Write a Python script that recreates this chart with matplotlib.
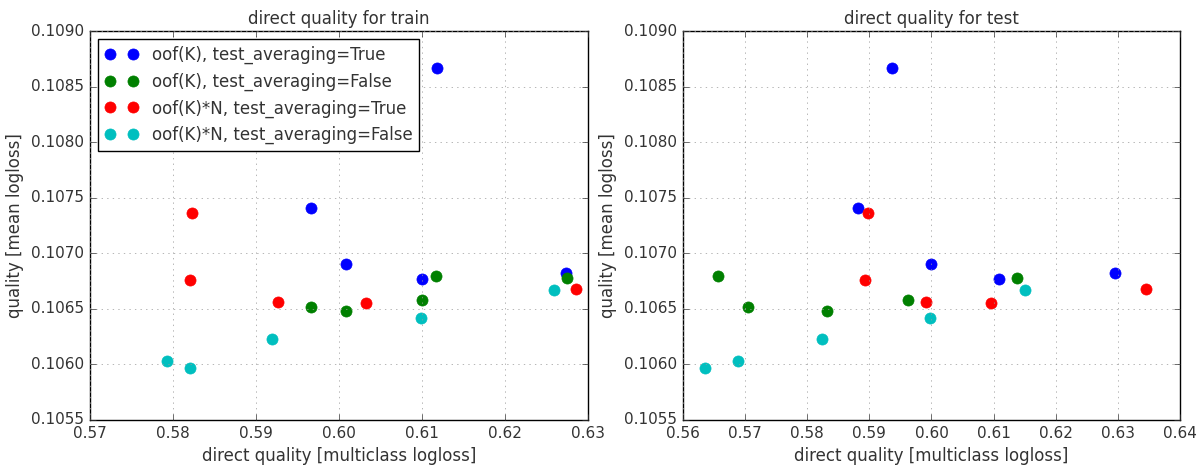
import matplotlib
matplotlib.use("Agg")
from matplotlib import pyplot as plt

labels = ["oof(K), test_averaging=True", "oof(K), test_averaging=False",
          "oof(K)*N, test_averaging=True", "oof(K)*N, test_averaging=False"]
colors = ["b", "g", "r", "c"]

# mean logloss (same for both panels)
blue_y = [0.10867, 0.10741, 0.10690, 0.10677, 0.10682]
green_y = [0.10680, 0.10678, 0.10652, 0.10648, 0.10658]
red_y = [0.10736, 0.10676, 0.10668, 0.10656, 0.10655]
cyan_y = [0.10667, 0.10642, 0.10623, 0.10603, 0.10597]

# direct quality on train
blue_train = [0.6118, 0.5966, 0.6009, 0.6100, 0.6273]
green_train = [0.6117, 0.6275, 0.5966, 0.6009, 0.6100]
red_train = [0.5823, 0.5820, 0.6286, 0.5926, 0.6033]
cyan_train = [0.6259, 0.6099, 0.5919, 0.5793, 0.5820]

# direct quality on test
blue_test = [0.5937, 0.5882, 0.5999, 0.6109, 0.6295]
green_test = [0.5656, 0.6137, 0.5705, 0.5832, 0.5963]
red_test = [0.5898, 0.5893, 0.6346, 0.5991, 0.6096]
cyan_test = [0.6151, 0.5997, 0.5824, 0.5688, 0.5635]

ys = [blue_y, green_y, red_y, cyan_y]
train_xs = [blue_train, green_train, red_train, cyan_train]
test_xs = [blue_test, green_test, red_test, cyan_test]

plt.style.use("classic")
plt.rcParams["font.size"] = 12
plt.rcParams["text.color"] = "0.2"
plt.rcParams["axes.labelcolor"] = "0.2"
plt.rcParams["xtick.color"] = "0.2"
plt.rcParams["ytick.color"] = "0.2"

fig = plt.figure(figsize=(11.98, 4.68), dpi=100, facecolor="white")
ax1 = fig.add_axes([0.0751, 0.1026, 0.4157, 0.831])
ax2 = fig.add_axes([0.570, 0.1026, 0.4150, 0.831])

for ax, xs, name, xlim in [(ax1, train_xs, "train", (0.57, 0.63)),
                           (ax2, test_xs, "test", (0.56, 0.64))]:
    for x, y, c, lab in zip(xs, ys, colors, labels):
        ax.plot(x, y, "o", color=c, markeredgecolor=c, markersize=8, label=lab)
    ax.set_xlim(*xlim)
    ax.set_ylim(0.1055, 0.1090)
    ax.grid(True, color="0.6", linestyle=":")
    ax.set_title("direct quality for " + name, fontsize=12)
    ax.set_xlabel("direct quality [multiclass logloss]")
    ax.set_ylabel("quality [mean logloss]")
    ax.tick_params(labelsize=11)
    ax.yaxis.set_major_formatter(matplotlib.ticker.FormatStrFormatter("%.4f"))
    ax.xaxis.set_major_formatter(matplotlib.ticker.FormatStrFormatter("%.2f"))

ax1.legend(loc="upper left", numpoints=2, fontsize=12)

plt.savefig("out.png", facecolor="white")
